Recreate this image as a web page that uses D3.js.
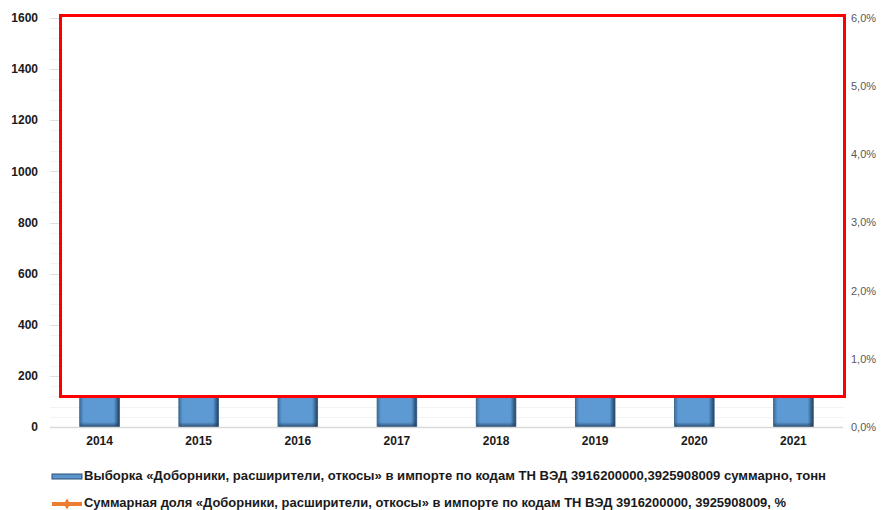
<!DOCTYPE html>
<html>
<head>
<meta charset="utf-8">
<script src="https://cdn.jsdelivr.net/npm/d3@7/dist/d3.min.js"></script>
<style>
  body { margin: 0; background: #fff; }
  svg { display: block; }
</style>
</head>
<body>
<svg id="chart" width="881" height="510"></svg>
<script>
// Import sample by year (tonnes) and its share of total import (%)
const years = ["2014", "2015", "2016", "2017", "2018", "2019", "2020", "2021"];
const tonnes = [540, 610, 690, 760, 830, 900, 780, 870];
const sharePct = [2.2, 2.5, 2.7, 2.9, 3.1, 3.3, 3.0, 3.2];
const leftTicks = [0, 200, 400, 600, 800, 1000, 1200, 1400, 1600];
const rightTicks = [0, 1, 2, 3, 4, 5, 6];
const legendLabels = [
  "Выборка «Доборники, расширители, откосы» в импорте  по кодам ТН ВЭД 3916200000,3925908009 суммарно, тонн",
  "Суммарная  доля «Доборники, расширители, откосы» в импорте  по кодам ТН ВЭД 3916200000, 3925908009, %"
];

const svg = d3.select("#chart");
const plot = { left: 50, right: 843, top: 18, bottom: 427 };

const x = d3.scaleBand().domain(years).range([plot.left, plot.right]).paddingInner(0.6).paddingOuter(0.3);
const yL = d3.scaleLinear().domain([0, 1600]).range([plot.bottom, plot.top]);
const yR = d3.scaleLinear().domain([0, 6]).range([plot.bottom, plot.top]);

const defs = svg.append("defs");
const g1 = defs.append("linearGradient").attr("id", "barH").attr("x1", 0).attr("x2", 1).attr("y1", 0).attr("y2", 0);
g1.append("stop").attr("offset", "0%").attr("stop-color", "#3f6f9e");
g1.append("stop").attr("offset", "10%").attr("stop-color", "#5d9ad3");
g1.append("stop").attr("offset", "86%").attr("stop-color", "#5d9ad3");
g1.append("stop").attr("offset", "100%").attr("stop-color", "#203f60");
const g2 = defs.append("linearGradient").attr("id", "barBottom").attr("x1", 0).attr("x2", 0).attr("y1", 0).attr("y2", 1);
g2.append("stop").attr("offset", "0%").attr("stop-color", "#1f3d5c").attr("stop-opacity", 0);
g2.append("stop").attr("offset", "100%").attr("stop-color", "#1f3d5c").attr("stop-opacity", 0.8);

// minor + major gridlines
const minor = d3.range(0, 1601, 40);
svg.append("g").selectAll("line").data(minor).join("line")
  .attr("x1", plot.left).attr("x2", plot.right)
  .attr("y1", d => Math.round(yL(d)) + 0.5).attr("y2", d => Math.round(yL(d)) + 0.5)
  .attr("stroke", d => d % 200 === 0 ? "#e0e0e0" : "#f3f3f3")
  .attr("stroke-width", 1);

// bars
const bars = svg.append("g");
bars.selectAll("rect.bar").data(years).join("rect").attr("class", "bar")
  .attr("x", d => x(d))
  .attr("width", x.bandwidth())
  .attr("y", (d, i) => yL(tonnes[i]))
  .attr("height", (d, i) => yL(0) - yL(tonnes[i]))
  .attr("fill", "url(#barH)")
  .attr("stroke", "#2f5a84")
  .attr("stroke-width", 0.8);
// bevelled lower edge
bars.selectAll("rect.bevel").data(years).join("rect").attr("class", "bevel")
  .attr("x", d => x(d) + 0.5)
  .attr("width", x.bandwidth() - 1)
  .attr("y", yL(0) - 5)
  .attr("height", 5)
  .attr("fill", "url(#barBottom)");

// share line
const line = d3.line().x((d, i) => x(years[i]) + x.bandwidth() / 2).y(d => yR(d));
svg.append("path").datum(sharePct).attr("d", line)
  .attr("fill", "none").attr("stroke", "#ed7d31").attr("stroke-width", 3);

// base axis line
svg.append("line").attr("x1", plot.left).attr("x2", plot.right)
  .attr("y1", plot.bottom + 0.5).attr("y2", plot.bottom + 0.5)
  .attr("stroke", "#d9d9d9").attr("stroke-width", 1.5);

// left axis labels
svg.append("g").selectAll("text").data(leftTicks).join("text")
  .attr("x", 38).attr("y", d => yL(d)).attr("dy", "0.35em")
  .attr("text-anchor", "end")
  .attr("font-family", "Liberation Sans, Arial, sans-serif")
  .attr("font-weight", "bold").attr("font-size", 12).attr("fill", "#1a1a1a")
  .text(d => d);

// right axis labels
svg.append("g").selectAll("text").data(rightTicks).join("text")
  .attr("x", 851).attr("y", d => yR(d)).attr("dy", "0.35em")
  .attr("font-family", "Liberation Sans, Arial, sans-serif")
  .attr("font-size", 11).attr("fill", "#595959")
  .text(d => d.toFixed(1).replace(".", ",") + "%");

// category labels
svg.append("g").selectAll("text").data(years).join("text")
  .attr("x", d => x(d) + x.bandwidth() / 2).attr("y", 445)
  .attr("text-anchor", "middle")
  .attr("font-family", "Liberation Sans, Arial, sans-serif")
  .attr("font-weight", "bold").attr("font-size", 12).attr("fill", "#1a1a1a")
  .text(d => d);

// covering frame
svg.append("rect").attr("x", 60.5).attr("y", 15.5).attr("width", 784).attr("height", 381)
  .attr("fill", "#fff").attr("stroke", "#ff0000").attr("stroke-width", 3);

// legend
const lg = svg.append("g");
lg.append("rect").attr("x", 52).attr("y", 474).attr("width", 30).attr("height", 5)
  .attr("fill", "#5b95cc").attr("stroke", "#2a5078").attr("stroke-width", 1);
lg.append("line").attr("x1", 52).attr("x2", 82).attr("y1", 504).attr("y2", 504)
  .attr("stroke", "#ed7d31").attr("stroke-width", 4);
lg.append("path").attr("d", d3.symbol(d3.symbolDiamond, 36)()).attr("transform", "translate(67,504)")
  .attr("fill", "#ed7d31");
const legEnds = [826, 786];
lg.selectAll("text").data(legendLabels).join("text")
  .attr("x", 84).attr("y", (d, i) => 480 + i * 27)
  .attr("font-family", "Liberation Sans, Arial, sans-serif")
  .attr("font-weight", "bold").attr("font-size", 12).attr("fill", "#1a1a1a")
  .attr("textLength", (d, i) => legEnds[i] - 84)
  .attr("lengthAdjust", "spacingAndGlyphs")
  .text(d => d);
</script>
</body>
</html>
